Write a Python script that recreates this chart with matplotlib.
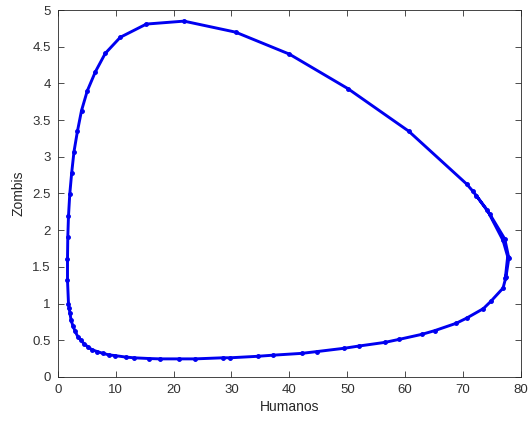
import matplotlib
matplotlib.use("Agg")
import matplotlib.pyplot as plt

plt.rcParams['font.family'] = ['Liberation Sans', 'DejaVu Sans']

# humanos (x) y zombis (y)
humanos = [77.3, 77.7, 76.9, 74.2, 71.7, 70.6, 60.6, 50.1, 40.0, 30.7, 21.8,
           15.3, 10.8, 8.2, 6.5, 5.1, 4.1, 3.4, 2.8, 2.4, 2.07, 1.85, 1.73,
           1.68, 1.68, 1.85, 1.95, 2.1, 2.3, 2.6, 3.0, 3.45, 4.0, 4.55, 5.2,
           5.9, 6.8, 7.8, 8.8, 9.85, 11.7, 13.1, 15.7, 17.6, 21.0, 23.7, 28.6,
           29.8, 34.5, 37.1, 42.1, 44.8, 49.5, 52.0, 56.5, 58.9, 62.9, 65.1,
           68.8, 70.6, 73.5, 74.8, 76.9, 77.4, 77.9, 77.2, 74.6, 72.3]
zombis = [1.35, 1.64, 1.86, 2.27, 2.53, 2.63, 3.35, 3.93, 4.40, 4.70, 4.85,
          4.81, 4.63, 4.41, 4.16, 3.90, 3.63, 3.35, 3.07, 2.78, 2.49, 2.19, 1.90,
          1.61, 1.32, 1.00, 0.94, 0.87, 0.77, 0.70, 0.62, 0.55, 0.50, 0.45, 0.41,
          0.37, 0.345, 0.32, 0.30, 0.29, 0.27, 0.26, 0.25, 0.245, 0.245, 0.245, 0.26,
          0.26, 0.28, 0.295, 0.32, 0.345, 0.39, 0.42, 0.47, 0.51, 0.58, 0.63,
          0.73, 0.80, 0.93, 1.03, 1.21, 1.36, 1.62, 1.88, 2.22, 2.47]

fig = plt.figure(figsize=(5.3, 4.22), dpi=100)
ax = fig.add_axes([0.109, 0.107, 0.874, 0.869])

ax.plot(humanos, zombis, '.-', color='#0000f0', linewidth=2.1, markersize=5)

ax.set_xlim(0, 80)
ax.set_ylim(0, 5)
ax.set_xticks(range(0, 81, 10))
ax.set_yticks([0, 0.5, 1, 1.5, 2, 2.5, 3, 3.5, 4, 4.5, 5])
ax.set_yticklabels(['0', '0.5', '1', '1.5', '2', '2.5', '3', '3.5', '4', '4.5', '5'])
ax.tick_params(direction='in', top=True, right=True, labelsize=9.5,
               colors='#303030', length=4, width=0.6, pad=5)
for s in ax.spines.values():
    s.set_color('#262626')
    s.set_linewidth(0.6)
ax.set_xlabel('Humanos', fontsize=10, color='#262626', labelpad=3)
ax.set_ylabel('Zombis', fontsize=10, color='#262626', labelpad=5)

fig.savefig('out.png', dpi=100)
